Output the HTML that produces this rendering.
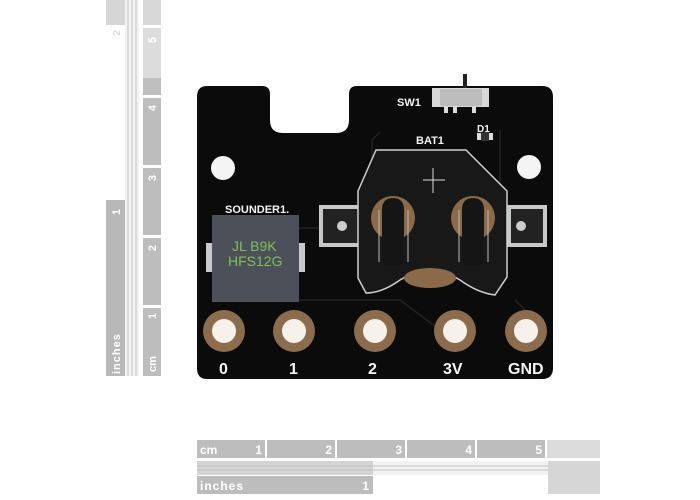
<!DOCTYPE html>
<html><head><meta charset="utf-8"><style>
html,body{margin:0;padding:0;background:#fff;width:700px;height:500px;overflow:hidden}
svg{display:block}
text{font-family:"Liberation Sans",sans-serif}
</style></head><body>
<svg width="700" height="500" viewBox="0 0 700 500" xmlns="http://www.w3.org/2000/svg">
<!-- left ruler -->
<rect x="106" y="0" width="19" height="25" fill="#d6d6d6"/>
<rect x="106" y="200" width="19" height="176" fill="#b8b8b8"/>
<rect x="125" y="0" width="14" height="376" fill="#f2f2f2"/>
<g stroke="#c4c4c4" stroke-width="1">
<line x1="128" y1="0" x2="128" y2="376"/><line x1="132" y1="0" x2="132" y2="376"/><line x1="136" y1="0" x2="136" y2="376"/>
</g>
<rect x="143" y="0" width="18" height="25" fill="#d8d8d8"/>
<rect x="143" y="28" width="18" height="67" fill="#dcdcdc"/>
<rect x="143" y="78" width="18" height="17" fill="#bfbfbf"/>
<rect x="143" y="98" width="18" height="67" fill="#bdbdbd"/>
<rect x="143" y="168" width="18" height="67" fill="#bdbdbd"/>
<rect x="143" y="238" width="18" height="67" fill="#bdbdbd"/>
<rect x="143" y="308" width="18" height="68" fill="#bdbdbd"/>
<g fill="#fff" font-size="11" font-weight="bold">
<text transform="translate(156,40) rotate(-90)" text-anchor="middle">5</text>
<text transform="translate(156,108) rotate(-90)" text-anchor="middle">4</text>
<text transform="translate(156,178) rotate(-90)" text-anchor="middle">3</text>
<text transform="translate(156,248) rotate(-90)" text-anchor="middle">2</text>
<text transform="translate(156,316) rotate(-90)" text-anchor="middle">1</text>
<text transform="translate(156,372) rotate(-90)">cm</text>
<text transform="translate(120,212) rotate(-90)" text-anchor="middle">1</text>
<text transform="translate(120,374) rotate(-90)" letter-spacing="1">inches</text>
</g>
<text transform="translate(120,33) rotate(-90)" fill="#ccc" font-size="10" text-anchor="middle">2</text>
<!-- bottom ruler -->
<rect x="197" y="440" width="68" height="18" fill="#bdbdbd"/>
<rect x="267" y="440" width="68" height="18" fill="#bdbdbd"/>
<rect x="337" y="440" width="68" height="18" fill="#bdbdbd"/>
<rect x="407" y="440" width="68" height="18" fill="#bdbdbd"/>
<rect x="477" y="440" width="68" height="18" fill="#bdbdbd"/>
<rect x="547" y="440" width="53" height="18" fill="#dcdcdc"/>
<rect x="197" y="461" width="403" height="14" fill="#f2f2f2"/>
<rect x="197" y="461" width="176" height="14" fill="#d4d4d4"/>
<g stroke="#c0c0c0"><line x1="197" y1="466" x2="600" y2="466"/><line x1="197" y1="470" x2="600" y2="470"/></g>
<rect x="197" y="476" width="176" height="18" fill="#bdbdbd"/>
<rect x="548" y="461" width="52" height="33" fill="#d6d6d6"/>
<g fill="#fff" font-size="12" font-weight="bold">
<text x="200" y="454">cm</text>
<text x="262" y="454" text-anchor="end">1</text>
<text x="332" y="454" text-anchor="end">2</text>
<text x="402" y="454" text-anchor="end">3</text>
<text x="472" y="454" text-anchor="end">4</text>
<text x="542" y="454" text-anchor="end">5</text>
<text x="200" y="490" letter-spacing="1">inches</text>
<text x="369" y="490" text-anchor="end">1</text>
</g>
<!-- board -->
<path d="M207 86 H262 Q270 86 270 94 V120 Q270 133 283 133 H336 Q349 133 349 120 V94 Q349 86 357 86 H542 Q553 86 553 97 V368 Q553 379 542 379 H207 Q197 379 197 368 V97 Q197 86 207 86 Z" fill="#0b0b0b"/>
<!-- traces -->
<g fill="none" stroke="#222" stroke-width="1.5">
<path d="M380 132 L372 140 V200 L360 215"/><path d="M290 250 V240 L300 228 H360"/><path d="M290 300 H400 L420 315 L440 330"/><path d="M500 130 V200"/><path d="M515 300 L535 320"/>
</g>
<!-- holes -->
<circle cx="223" cy="168" r="12" fill="#f4f4f4"/>
<circle cx="529" cy="167" r="12" fill="#f4f4f4"/>
<!-- switch -->
<rect x="463" y="74" width="4" height="14" fill="#222"/>
<rect x="432" y="88" width="57" height="19" fill="#d8d8d8"/>
<rect x="440" y="89" width="42" height="17" fill="#bdbdbd"/>
<rect x="444" y="107" width="4" height="6" fill="#ddd"/><rect x="453" y="107" width="4" height="6" fill="#ddd"/><rect x="472" y="107" width="4" height="6" fill="#ddd"/>
<rect x="477" y="133" width="16" height="7" fill="#ddd"/><rect x="481" y="132" width="8" height="9" fill="#333"/>
<!-- battery holder -->
<rect x="319" y="205" width="45" height="42" fill="#c8c8c8"/><rect x="323" y="209" width="37" height="34" fill="#222"/>
<circle cx="342" cy="226" r="5" fill="#ccc"/>
<rect x="507" y="205" width="40" height="42" fill="#c8c8c8"/><rect x="511" y="209" width="32" height="34" fill="#222"/>
<circle cx="521" cy="226" r="5" fill="#ccc"/>
<path d="M376 150 H466 L507 191 V277 L495 295 Q478 293 460 280 Q430 262 400 280 Q382 293 366 293 L358 278 V191 Z" fill="#181818" stroke="#cfcfcf" stroke-width="1.5"/>
<ellipse cx="430" cy="278" rx="26" ry="10" fill="#8a6a48"/>
<circle cx="393" cy="218" r="22" fill="#8a6a48"/><circle cx="473" cy="218" r="22" fill="#8a6a48"/>
<path d="M382 265 V210 Q382 198 393 198 Q404 198 404 210 V265 Z" fill="#151515"/>
<path d="M462 265 V210 Q462 198 473 198 Q484 198 484 210 V265 Z" fill="#151515"/>
<path d="M379 210 V262 M408 210 V262 M459 210 V262 M488 210 V262" stroke="#bbb" stroke-width="1"/>
<path d="M433 168 V193 M423 180 H445" stroke="#ddd" stroke-width="1"/>
<!-- sounder -->
<rect x="206" y="243" width="8" height="29" fill="#c9c9c9"/><rect x="297" y="243" width="8" height="29" fill="#c9c9c9"/>
<rect x="212" y="215" width="87" height="87" fill="#4c5159"/>
<g fill="#7fbf5a" font-family="Liberation Mono,monospace" font-size="14">
<text x="232" y="251">JL B9K</text>
<text x="228" y="266">HFS12G</text>
</g>
<!-- labels -->
<g fill="#f4f4f4" font-family="Liberation Mono,monospace" font-weight="bold">
<text x="225" y="213" font-size="11">SOUNDER1.</text>
<text x="397" y="106" font-size="11">SW1</text>
<text x="416" y="144" font-size="11">BAT1</text>
<text x="477" y="132" font-size="10">D1</text>
<text x="219" y="374" font-size="16">0</text>
<text x="289" y="374" font-size="16">1</text>
<text x="368" y="374" font-size="16">2</text>
<text x="443" y="374" font-size="16">3V</text>
<text x="508" y="374" font-size="16">GND</text>
</g>
<!-- pads -->
<g fill="#8b6d4e">
<circle cx="224" cy="331" r="21"/><circle cx="294" cy="331" r="21"/><circle cx="375" cy="331" r="21"/><circle cx="455" cy="331" r="21"/><circle cx="526" cy="331" r="21"/>
</g>
<g fill="#f6f1ea">
<circle cx="224" cy="331" r="12"/><circle cx="294" cy="331" r="12"/><circle cx="375" cy="331" r="12"/><circle cx="455" cy="331" r="12"/><circle cx="526" cy="331" r="12"/>
</g>
</svg>
</body></html>
